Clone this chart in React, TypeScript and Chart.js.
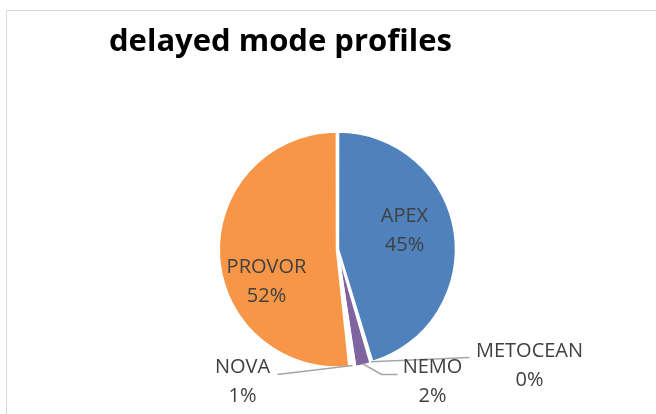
import React, { useEffect, useRef } from "react";
import { Chart, registerables } from "chart.js";

Chart.register(...registerables);

const TITLE = "delayed mode profiles";
const categories = ["APEX", "METOCEAN", "NEMO", "NOVA", "PROVOR"];
const shares = [45.3, 0.2, 2.1, 0.7, 51.7];
const percentLabels = ["45%", "0%", "2%", "1%", "52%"];
const sliceColors = ["#4F81BD", "#C0504D", "#8064A2", "#FFFFFF", "#F79646"];

// label placement relative to pie centre: [dx, dy]; leader: list of points relative to centre (empty => inside label)
const labelOffsets: [number, number][] = [[67, -19], [192, 116], [95, 132], [-95, 132], [-71, 32]];
const leaderPaths: [number, number][][] = [
  [],
  [[132, 108]],
  [[44, 125], [60, 125]],
  [[-60, 125]],
  [],
];

const FONT = '"Open Sans", "Liberation Sans", sans-serif';

const labelPlugin = {
  id: "pieLabels",
  beforeDraw(chart: any) {
    const ctx = chart.ctx;
    ctx.save();
    ctx.fillStyle = "#ffffff";
    ctx.fillRect(0, 0, chart.width, chart.height);
    ctx.strokeStyle = "#D9D9D9";
    ctx.lineWidth = 1;
    ctx.strokeRect(6.5, 10.5, chart.width + 20, chart.height + 20);
    // title
    ctx.fillStyle = "#000000";
    ctx.font = `bold 31px ${FONT}`;
    ctx.textAlign = "left";
    ctx.textBaseline = "alphabetic";
    ctx.fillText(TITLE, 109, 51);
    ctx.restore();
  },
  afterDatasetsDraw(chart: any) {
    const ctx = chart.ctx;
    const meta = chart.getDatasetMeta(0);
    ctx.save();
    meta.data.forEach((arc: any, i: number) => {
      const p = arc.getProps(["x", "y", "startAngle", "endAngle", "outerRadius"], true);
      const cx = p.x;
      const cy = p.y;
      const path = leaderPaths[i];
      if (path.length) {
        const mid = (p.startAngle + p.endAngle) / 2;
        ctx.strokeStyle = "#A6A6A6";
        ctx.lineWidth = 1.5;
        ctx.beginPath();
        ctx.moveTo(cx + Math.cos(mid) * p.outerRadius, cy + Math.sin(mid) * p.outerRadius);
        path.forEach(([dx, dy]) => ctx.lineTo(cx + dx, cy + dy));
        ctx.stroke();
      }
      const [lx, ly] = labelOffsets[i];
      ctx.fillStyle = "#404040";
      ctx.font = `20px ${FONT}`;
      ctx.textAlign = "center";
      ctx.textBaseline = "middle";
      ctx.fillText(categories[i], cx + lx, cy + ly - 14.5);
      ctx.fillText(percentLabels[i], cx + lx, cy + ly + 14.5);
    });
    ctx.restore();
  },
};

export default function App() {
  const ref = useRef<HTMLCanvasElement | null>(null);
  useEffect(() => {
    document.body.style.margin = "0";
    if (!ref.current) return;
    const chart = new Chart(ref.current, {
      type: "pie",
      data: {
        labels: categories,
        datasets: [
          {
            data: shares,
            backgroundColor: sliceColors,
            borderColor: "#FFFFFF",
            borderWidth: 2,
            offset: 3,
          },
        ],
      },
      options: {
        responsive: false,
        animation: false,
        rotation: 0,
        layout: { padding: { left: 218, right: 199, top: 130, bottom: 45 } },
        plugins: {
          legend: { display: false },
          tooltip: { enabled: false },
          title: { display: false },
        },
      },
      plugins: [labelPlugin],
    });
    return () => chart.destroy();
  }, []);
  return (
    <div style={{ width: 656, height: 414 }}>
      <canvas ref={ref} width={656} height={414} style={{ display: "block" }} />
    </div>
  );
}
